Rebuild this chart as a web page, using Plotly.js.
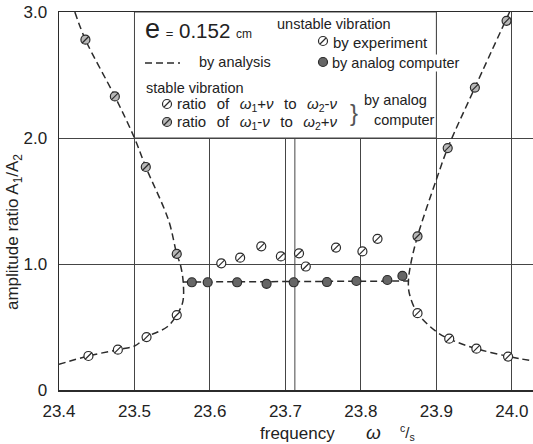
<!DOCTYPE html>
<html>
<head>
<meta charset="utf-8">
<script src="https://cdn.plot.ly/plotly-3.0.1.min.js"></script>
<style>
  html, body { margin: 0; padding: 0; background: #fff; }
  #chart { width: 533px; height: 444px; }
</style>
</head>
<body>
<div id="chart"></div>
<script>
// Amplitude ratio A1/A2 against forcing frequency (c/s), e = 0.152 cm

// Stable vibration: ratio of w1+v to w2-v (analog computer)
const ratioPlusX = [23.439, 23.478, 23.516, 23.556, 23.875, 23.917, 23.953, 23.995];
const ratioPlusY = [0.27, 0.32, 0.42, 0.595, 0.61, 0.407, 0.328, 0.265];

// Stable vibration: ratio of w1-v to w2+v (analog computer)
const ratioMinusX = [23.435, 23.474, 23.515, 23.556, 23.875, 23.915, 23.951, 23.993];
const ratioMinusY = [2.78, 2.33, 1.77, 1.08, 1.22, 1.92, 2.40, 2.93];

// Unstable vibration, by experiment
const expX = [23.615, 23.640, 23.668, 23.694, 23.718, 23.727, 23.767, 23.802, 23.822];
const expY = [1.005, 1.05, 1.14, 1.06, 1.085, 0.98, 1.13, 1.10, 1.20];

// Unstable vibration, by analog computer
const analogX = [23.576, 23.597, 23.636, 23.675, 23.711, 23.755, 23.794, 23.835, 23.855];
const analogY = [0.855, 0.855, 0.855, 0.843, 0.855, 0.857, 0.865, 0.873, 0.905];

// Analytical solution: left branch, flat unstable part, right branch
const leftCurveX = [23.421, 23.435, 23.474, 23.500, 23.515, 23.545, 23.556, 23.561, 23.5645, 23.564, 23.556, 23.543, 23.516, 23.500, 23.478, 23.439, 23.400];
const leftCurveY = [3.00, 2.78, 2.33, 2.00, 1.77, 1.35, 1.08, 0.99, 0.86, 0.70, 0.595, 0.50, 0.42, 0.349, 0.32, 0.27, 0.204];
const flatCurveX = [23.5645, 23.863];
const flatCurveY = [0.857, 0.865];
const rightCurveX = [23.997, 23.951, 23.915, 23.900, 23.875, 23.866, 23.863, 23.864, 23.875, 23.900, 23.917, 23.953, 23.995, 24.028];
const rightCurveY = [3.00, 2.40, 1.92, 1.67, 1.22, 1.00, 0.87, 0.77, 0.61, 0.463, 0.405, 0.328, 0.267, 0.23];

// Axis ticks
const yTickVals = [0, 1, 2, 3];
const yTickText = ['0', '1.0', '2.0', '3.0'];

const INK = '#2b2b2b';
const GRID = '#454545';
const DASH = '7px,4px';

function curve(x, y) {
  return { x: x, y: y, type: 'scatter', mode: 'lines',
    line: { color: INK, width: 1.5, dash: DASH, shape: 'spline', smoothing: 1 },
    hoverinfo: 'skip' };
}
function dots(x, y, fill) {
  return { x: x, y: y, type: 'scatter', mode: 'markers',
    marker: { symbol: 'circle', size: 9, color: fill, line: { color: INK, width: 1.2 } } };
}
function slashes(x, y) {
  return { x: x, y: y, type: 'scatter', mode: 'markers', hoverinfo: 'skip',
    marker: { symbol: 'line-ne', size: 7, line: { color: INK, width: 1.2 } } };
}

const data = [
  curve(leftCurveX, leftCurveY),
  { x: flatCurveX, y: flatCurveY, type: 'scatter', mode: 'lines',
    line: { color: INK, width: 1.5, dash: DASH }, hoverinfo: 'skip' },
  curve(rightCurveX, rightCurveY),
  dots(analogX, analogY, '#666666'),
  dots(expX, expY, '#ffffff'), slashes(expX, expY),
  dots(ratioPlusX, ratioPlusY, '#ffffff'), slashes(ratioPlusX, ratioPlusY),
  dots(ratioMinusX, ratioMinusY, '#b8b8b8'), slashes(ratioMinusX, ratioMinusY)
];

// Plot area spans 59..533 px horizontally and 12..390 px vertically
const L = 59, T = 12, W = 474, H = 378;
const px = v => (v - L) / W;
const py = v => (T + H - v) / H;

function note(text, x, y, size, extra) {
  return Object.assign({ xref: 'paper', yref: 'paper', x: px(x), y: py(y),
    xanchor: 'left', yanchor: 'middle', showarrow: false, text: text,
    font: { size: size, color: '#222' } }, extra || {});
}
function keyDot(x, y, fill, slash) {
  const s = [{ type: 'circle', xref: 'paper', yref: 'paper', xsizemode: 'pixel', ysizemode: 'pixel',
    xanchor: px(x), yanchor: py(y), x0: -4.5, x1: 4.5, y0: -4.5, y1: 4.5,
    fillcolor: fill, line: { color: INK, width: 1.2 }, layer: 'above' }];
  if (slash) {
    s.push({ type: 'line', xref: 'paper', yref: 'paper', xsizemode: 'pixel', ysizemode: 'pixel',
      xanchor: px(x), yanchor: py(y), x0: -3, x1: 3, y0: -3, y1: 3,
      line: { color: INK, width: 1.2 }, layer: 'above' });
  }
  return s;
}

const shapes = [
  // key panel
  { type: 'rect', xref: 'x', yref: 'y', x0: 23.5, x1: 23.9, y0: 2.0, y1: 3.0,
    fillcolor: '#ffffff', line: { color: GRID, width: 1 }, layer: 'between' },
  // doubled rule beside 23.7
  { type: 'line', xref: 'x', yref: 'y', x0: 23.7125, x1: 23.7125, y0: 0, y1: 2.0,
    line: { color: GRID, width: 1 }, layer: 'between' },
  // dashed key sample
  { type: 'line', xref: 'paper', yref: 'paper', x0: px(145), x1: px(180), y0: py(63), y1: py(63),
    line: { color: INK, width: 1.5, dash: DASH }, layer: 'above' }
].concat(
  keyDot(323, 41, '#ffffff', true),
  keyDot(323, 62, '#666666', false),
  keyDot(167, 104, '#ffffff', true),
  keyDot(167, 122, '#b8b8b8', true)
);

const SP = '\u2002\u2009';
const annotations = [
  note('<span style="font-size:27px">e</span> <span style="font-size:13px">=</span> 0.152 <span style="font-size:12px">cm</span>', 143, 29, 20.5),
  note('unstable vibration', 275, 24, 14.5),
  note('by experiment', 331, 42, 15),
  note('by analysis', 197, 62, 14.5),
  note('by analog computer', 331, 63, 14.5, { bgcolor: '#ffffff', borderpad: 0 }),
  note('stable vibration', 144, 88, 14.5),
  note('ratio' + SP + 'of' + SP + '<i>ω</i><sub>1</sub>+<i>ν</i>' + SP + 'to' + SP + '<i>ω</i><sub>2</sub>-<i>ν</i>', 175, 104, 15),
  note('ratio' + SP + 'of' + SP + '<i>ω</i><sub>1</sub>-<i>ν</i>' + SP + 'to' + SP + '<i>ω</i><sub>2</sub>+<i>ν</i>', 175, 122, 15),
  note('}', 348, 112, 24, { font: { size: 24, color: '#555' } }),
  note('by analog', 362, 100, 14.5),
  note('computer', 372, 120, 14.5),
  // axis titles
  note('amplitude ratio A<sub>1</sub>/A<sub>2</sub>', 14, 232, 17, { xanchor: 'center', textangle: -90 }),
  note('frequency', 297, 434, 17, { xanchor: 'center' }),
  note('<i>ω</i>', 373, 432, 19, { xanchor: 'center' }),
  note('<sup>c</sup>/<sub>s</sub>', 407, 432, 15, { xanchor: 'center' })
];

const layout = {
  width: 533, height: 444,
  margin: { l: L, r: 0, t: T, b: 444 - T - H, pad: 0 },
  paper_bgcolor: '#ffffff', plot_bgcolor: '#ffffff',
  showlegend: false,
  font: { family: '"Liberation Sans", Arial, sans-serif', color: '#222', size: 17 },
  xaxis: {
    range: [23.4, 24.028], tick0: 23.4, dtick: 0.1, tickformat: '.1f',
    showgrid: true, gridcolor: GRID, gridwidth: 1,
    showline: true, linecolor: INK, linewidth: 1.5, mirror: true,
    ticks: 'outside', ticklen: 5, tickcolor: 'rgba(0,0,0,0)',
    tickfont: { size: 17, color: '#222' },
    zeroline: false, fixedrange: true
  },
  yaxis: {
    range: [0, 3], tickmode: 'array', tickvals: yTickVals, ticktext: yTickText,
    showgrid: true, gridcolor: GRID, gridwidth: 1,
    showline: true, linecolor: INK, linewidth: 1.5, mirror: false,
    ticks: 'outside', ticklen: 7, tickcolor: 'rgba(0,0,0,0)',
    tickfont: { size: 17, color: '#222' },
    zeroline: false, fixedrange: true
  },
  shapes: shapes,
  annotations: annotations
};

Plotly.newPlot('chart', data, layout, { staticPlot: true, displayModeBar: false });
</script>
</body>
</html>
